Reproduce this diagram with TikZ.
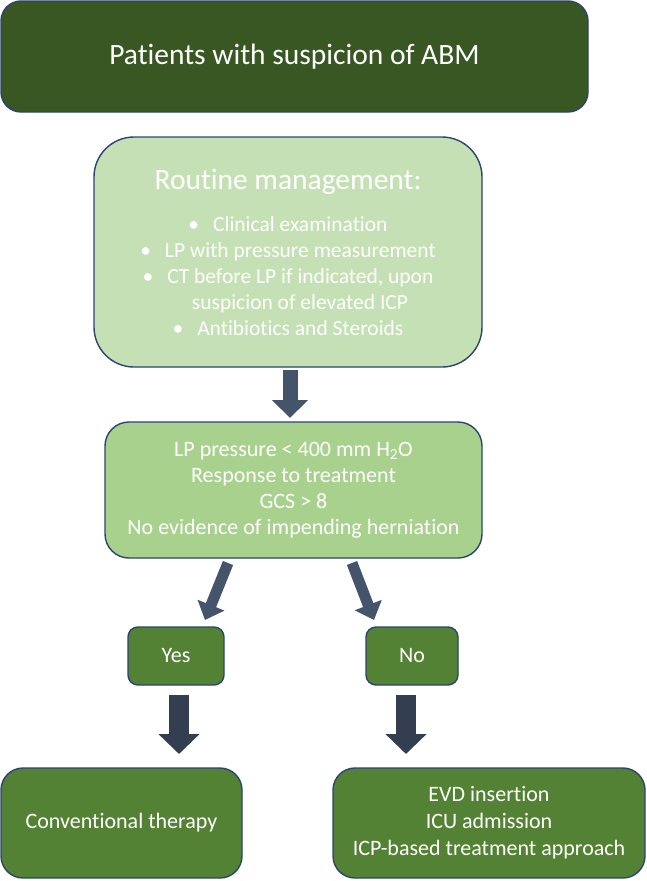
\documentclass[tikz,border=0pt]{standalone}
\usepackage{fontspec}
\setmainfont{Carlito}[Ligatures=NoCommon]
\usetikzlibrary{arrows.meta}
\definecolor{dkgreen}{HTML}{385723}
\definecolor{ltgreen}{HTML}{C5E0B4}
\definecolor{mdgreen}{HTML}{A9D18E}
\definecolor{grn}{HTML}{548235}
\definecolor{navy}{HTML}{2B4470}
\definecolor{arrgray}{HTML}{44546A}
\definecolor{arrdark}{HTML}{333F50}
\begin{document}
\begin{tikzpicture}[x=1pt,y=-1pt,
  box/.style={draw=navy, line width=1.4pt, rounded corners=#1, text=white, align=center, inner sep=0pt, font=\fontsize{22}{26}\selectfont},
  arrowA/.style={draw=arrgray, line width=15pt, -{Triangle[width=35pt,length=18pt]}},
  arrowB/.style={draw=arrgray, line width=11pt, -{Triangle[width=28pt,length=16pt]}},
  arrowC/.style={draw=arrdark, line width=20pt, -{Triangle[width=40pt,length=20pt]}}]
\useasboundingbox (0,0) rectangle (646,881);
\node[box=20pt, fill=dkgreen, minimum width=587pt, minimum height=111pt, font=\fontsize{29.5}{34}\selectfont] (top) at (294.5,56.5) {Patients with suspicion of ABM};
\node[box=40pt, fill=ltgreen, minimum width=388pt, minimum height=230pt, font=\fontsize{21.5}{26}\selectfont] (routine) at (288,252)
 {{\fontsize{29.5}{34}\selectfont Routine management:}\\[16pt]
  \textbullet\hspace{14pt}Clinical examination\\
  \textbullet\hspace{14pt}LP with pressure measurement\\
  \textbullet\hspace{14pt}CT before LP if indicated, upon\\
  \hspace*{24pt}suspicion of elevated ICP\\
  \textbullet\hspace{14pt}Antibiotics and Steroids};
\node[box=24pt, fill=mdgreen, minimum width=377pt, minimum height=136pt] (lp) at (293.5,490)
 {LP pressure < 400 mm H\textsubscript{2}O\\ Response to treatment\\ GCS > 8\\ No evidence of impending herniation};
\node[box=10pt, fill=grn, minimum width=96pt, minimum height=58pt] (yes) at (176,656) {Yes};
\node[box=10pt, fill=grn, minimum width=92pt, minimum height=58pt] (no) at (412,656) {No};
\node[box=22pt, fill=grn, minimum width=241pt, minimum height=110pt] (conv) at (121.5,823) {Conventional therapy};
\node[box=22pt, fill=grn, minimum width=312pt, minimum height=110pt, font=\fontsize{22}{27}\selectfont] (icp) at (489,823) {EVD insertion\\ ICU admission\\ ICP-based treatment approach};
\coordinate (a1s) at (290,370);
\coordinate (a1e) at (290,418);
\coordinate (a2s) at (228,563);
\coordinate (a2e) at (205,620);
\coordinate (a3s) at (352,563);
\coordinate (a3e) at (374,620);
\coordinate (a4s) at (179,695);
\coordinate (a4e) at (179,754);
\coordinate (a5s) at (406,695);
\coordinate (a5e) at (406,754);
\draw[arrowA] (a1s) -- (a1e);
\draw[arrowB] (a2s) -- (a2e);
\draw[arrowB] (a3s) -- (a3e);
\draw[arrowC] (a4s) -- (a4e);
\draw[arrowC] (a5s) -- (a5e);
\end{tikzpicture}
\end{document}
